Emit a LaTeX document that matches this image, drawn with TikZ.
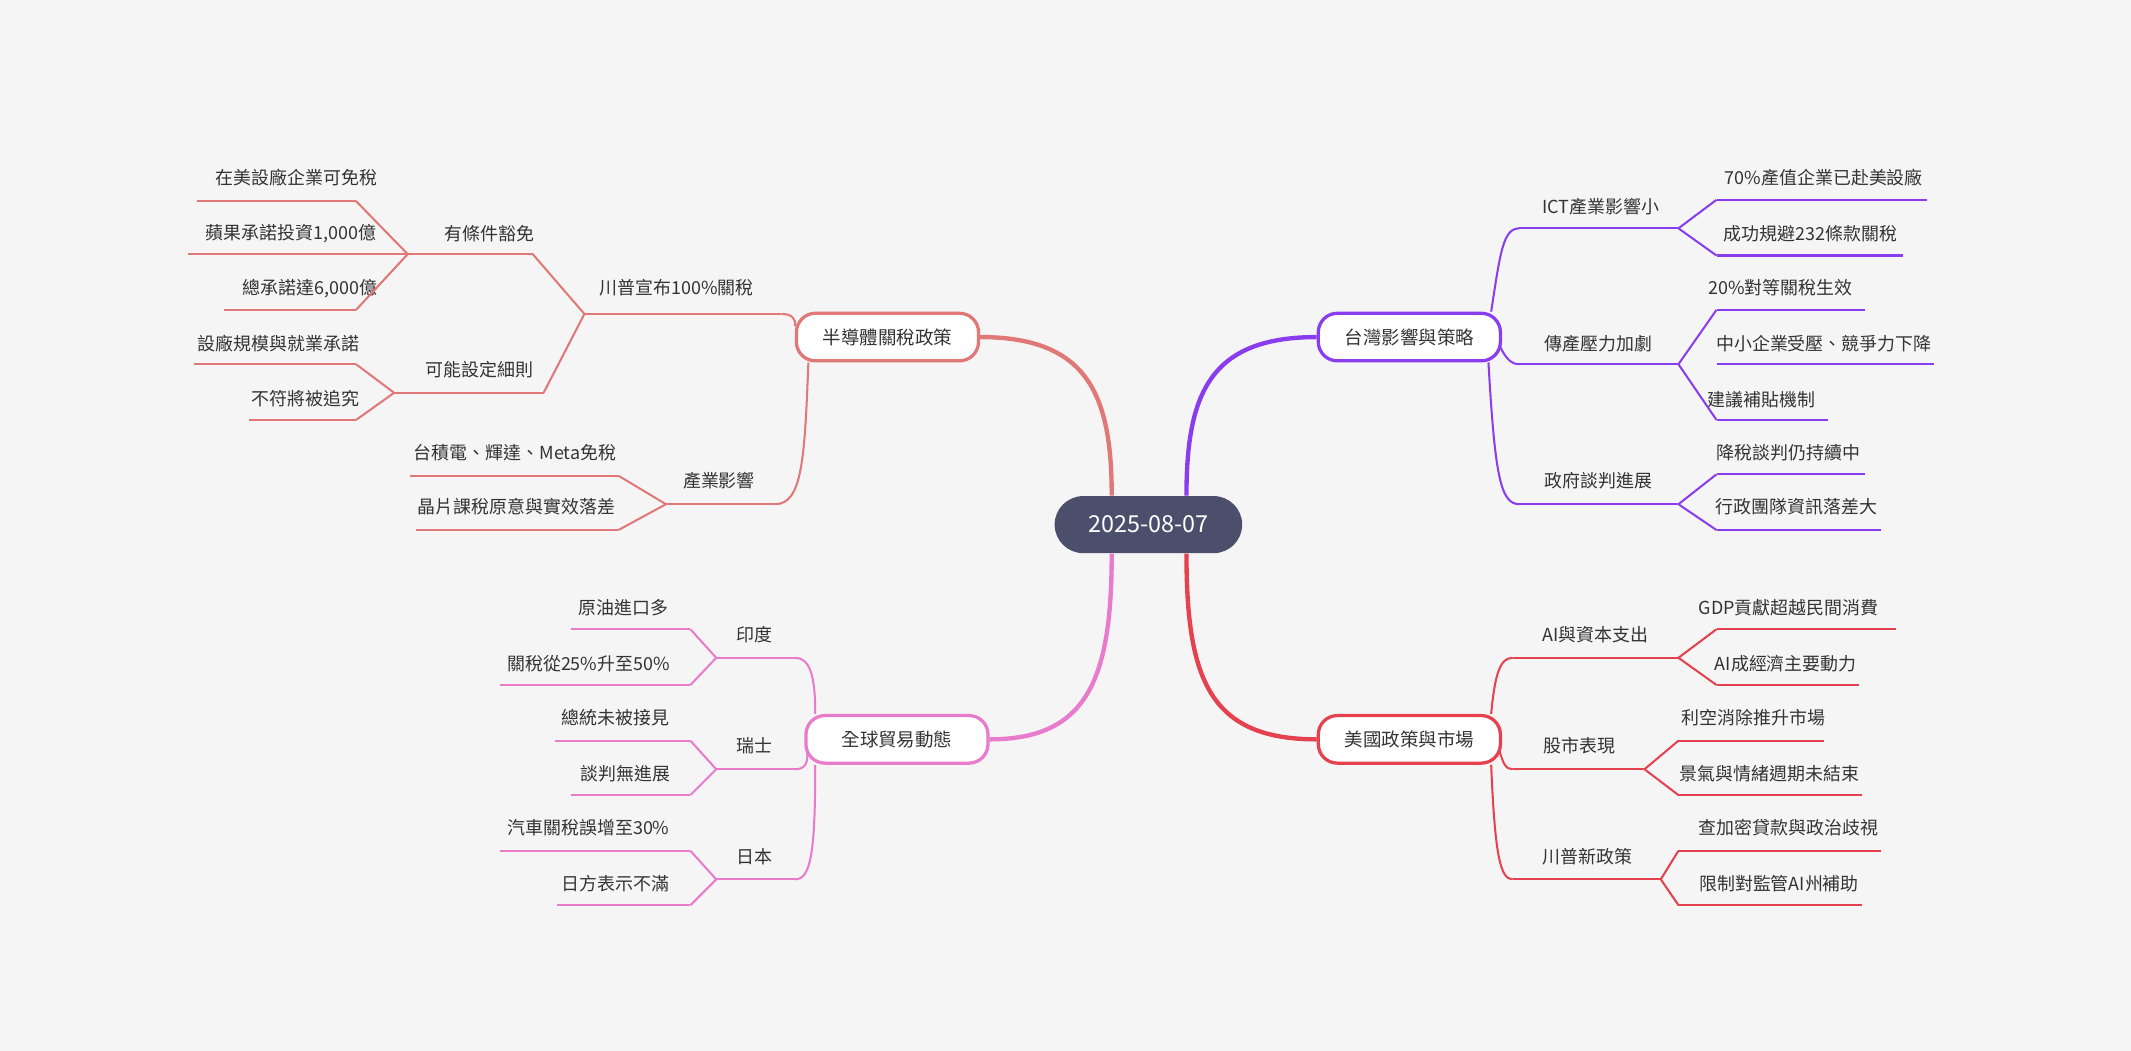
\documentclass[tikz,border=0pt]{standalone}
\usepackage{fontspec}
\setmainfont{Noto Sans CJK TC}
\usetikzlibrary{calc}
\definecolor{bg}{HTML}{F5F5F5}
\definecolor{cA}{HTML}{E07878}
\definecolor{cB}{HTML}{8A3DEE}
\definecolor{cC}{HTML}{E87BCB}
\definecolor{cD}{HTML}{E5414F}
\definecolor{rootc}{HTML}{4B4F6B}
\definecolor{txt}{HTML}{333333}
\tikzset{
 lf/.style={text=txt,font=\fontsize{6.6}{8}\selectfont,inner sep=0pt},
 ul/.style={line width=0.75pt},
 mainbox/.style={draw,line width=1.2pt,fill=white,rounded corners=7pt,minimum width=67pt,minimum height=17.5pt,text=txt,font=\fontsize{6.8}{8}\selectfont},
 rootbox/.style={fill=rootc,rounded corners=10.5pt,minimum width=69pt,minimum height=21pt,text=white,font=\fontsize{8.6}{10}\selectfont},
 thick1/.style={line width=1.6pt},
}
% \leaf{name}{tx}{ty}{x1}{x2}{uy}{text}{color}
\newcommand{\leaf}[8]{%
 \coordinate (#1L) at (#4,#6); \coordinate (#1R) at (#5,#6);
 \node[lf] (#1) at (#2,#3) {#7};
 \draw[ul,#8] (#1L) -- (#1R);}
\newcommand{\sconn}[3]{\draw[ul,#3] (#1) .. controls ($(#1)!0.5!(#2)$ |- #1) and ($(#1)!0.5!(#2)$ |- #2) .. (#2);}
\begin{document}
\begin{tikzpicture}[x=0.5pt,y=-0.5pt]
\fill[bg] (0,0) rectangle (1568,773);
\useasboundingbox (0,0) rectangle (1568,773);
% root and main nodes
\node[rootbox] (root) at (845,386) {2025-08-07};
\node[mainbox,draw=cA] (nA) at (653,248) {半導體關稅政策};
\node[mainbox,draw=cB] (nB) at (1037,248) {台灣影響與策略};
\node[mainbox,draw=cC] (nC) at (660,544) {全球貿易動態};
\node[mainbox,draw=cD] (nD) at (1037,544) {美國政策與市場};
\draw[thick1,cA] (root.north -| 818,0) .. controls (818,290) and (800,248) .. (nA.east);
\draw[thick1,cB] (root.north -| 873,0) .. controls (873,290) and (890,248) .. (nB.west);
\draw[thick1,cC] (root.south -| 818,0) .. controls (818,500) and (800,544) .. (nC.east);
\draw[thick1,cD] (root.south -| 873,0) .. controls (873,500) and (890,544) .. (nD.west);
% ---- A
\leaf{a1}{498}{212}{430}{575}{231}{川普宣布100\%關稅}{cA}
\leaf{a11}{360}{172}{300}{392}{187}{有條件豁免}{cA}
\leaf{a111}{218}{131}{145}{262}{148}{在美設廠企業可免稅}{cA}
\leaf{a112}{214}{172}{138}{300}{187}{蘋果承諾投資1,000億}{cA}
\leaf{a113}{228}{212}{165}{262}{228}{總承諾達6,000億}{cA}
\leaf{a12}{353}{272}{290}{400}{289}{可能設定細則}{cA}
\leaf{a121}{205}{253}{143}{262}{268}{設廠規模與就業承諾}{cA}
\leaf{a122}{225}{293}{183}{262}{309}{不符將被追究}{cA}
\leaf{a2}{529}{354}{490}{570}{371}{產業影響}{cA}
\leaf{a21}{379}{333}{302}{455}{350}{台積電、輝達、Meta免稅}{cA}
\leaf{a22}{380}{373}{306}{455}{390}{晶片課稅原意與實效落差}{cA}
\draw[ul,cA] (a1R) .. controls (582,231) and (586,234) .. (nA.west |- 0,240);
\draw[ul,cA] (nA.south west) ++(10,0) coordinate (nAs) .. controls (592,340) and (590,371) .. (a2R);
\sconn{a1L}{a11R}{cA}\sconn{a1L}{a12R}{cA}
\sconn{a11L}{a111R}{cA}\sconn{a11L}{a113R}{cA}
\sconn{a12L}{a121R}{cA}\sconn{a12L}{a122R}{cA}
\sconn{a2L}{a21R}{cA}\sconn{a2L}{a22R}{cA}
% ---- B
\leaf{b1}{1178}{152}{1118}{1235}{168}{ICT產業影響小}{cB}
\leaf{b11}{1342}{131}{1263}{1418}{147}{70\%產值企業已赴美設廠}{cB}
\leaf{b12}{1332}{172}{1263}{1400}{188}{成功規避232條款關稅}{cB}
\leaf{b2}{1176}{253}{1118}{1235}{268}{傳產壓力加劇}{cB}
\leaf{b21}{1310}{212}{1263}{1372}{228}{20\%對等關稅生效}{cB}
\leaf{b22}{1342}{253}{1263}{1423}{268}{中小企業受壓、競爭力下降}{cB}
\leaf{b23}{1296}{294}{1263}{1345}{309}{建議補貼機制}{cB}
\leaf{b3}{1176}{354}{1118}{1235}{371}{政府談判進展}{cB}
\leaf{b31}{1316}{333}{1263}{1372}{349}{降稅談判仍持續中}{cB}
\leaf{b32}{1322}{373}{1263}{1384}{390}{行政團隊資訊落差大}{cB}
\draw[ul,cB] ($(nB.north east)+(-8,0)$) .. controls (1104,185) and (1106,168) .. (b1L);
\draw[ul,cB] ($(nB.east)+(-2,6)$) .. controls (1108,264) and (1112,268) .. (b2L);
\draw[ul,cB] ($(nB.south east)+(-10,0)$) .. controls (1100,350) and (1104,371) .. (b3L);
\sconn{b1R}{b11L}{cB}\sconn{b1R}{b12L}{cB}
\sconn{b2R}{b21L}{cB}\sconn{b2R}{b23L}{cB}
\sconn{b3R}{b31L}{cB}\sconn{b3R}{b32L}{cB}
% ---- C
\leaf{c1}{555}{467}{527}{585}{484}{印度}{cC}
\leaf{c11}{459}{447}{420}{508}{463}{原油進口多}{cC}
\leaf{c12}{433}{488}{368}{508}{504}{關稅從25\%升至50\%}{cC}
\leaf{c2}{555}{549}{527}{585}{566}{瑞士}{cC}
\leaf{c21}{453}{528}{408}{508}{545}{總統未被接見}{cC}
\leaf{c22}{460}{569}{420}{508}{585}{談判無進展}{cC}
\leaf{c3}{555}{630}{527}{585}{647}{日本}{cC}
\leaf{c31}{433}{609}{368}{508}{626}{汽車關稅誤增至30\%}{cC}
\leaf{c32}{453}{650}{410}{508}{666}{日方表示不滿}{cC}
\draw[ul,cC] ($(nC.north west)+(8,0)$) .. controls (600,495) and (595,484) .. (c1R);
\draw[ul,cC] ($(nC.west)+(2,8)$) .. controls (595,562) and (592,566) .. (c2R);
\draw[ul,cC] ($(nC.south west)+(8,0)$) .. controls (600,630) and (596,647) .. (c3R);
\sconn{c1L}{c11R}{cC}\sconn{c1L}{c12R}{cC}
\sconn{c2L}{c21R}{cC}\sconn{c2L}{c22R}{cC}
\sconn{c3L}{c31R}{cC}\sconn{c3L}{c32R}{cC}
% ---- D
\leaf{d1}{1174}{467}{1113}{1235}{484}{AI與資本支出}{cD}
\leaf{d11}{1316}{447}{1263}{1395}{463}{GDP貢獻超越民間消費}{cD}
\leaf{d12}{1314}{488}{1263}{1368}{504}{AI成經濟主要動力}{cD}
\leaf{d2}{1162}{549}{1113}{1210}{566}{股市表現}{cD}
\leaf{d21}{1290}{528}{1235}{1342}{545}{利空消除推升市場}{cD}
\leaf{d22}{1302}{569}{1235}{1370}{585}{景氣與情緒週期未結束}{cD}
\leaf{d3}{1168}{630}{1113}{1222}{647}{川普新政策}{cD}
\leaf{d31}{1316}{609}{1235}{1384}{626}{查加密貸款與政治歧視}{cD}
\leaf{d32}{1309}{650}{1235}{1370}{666}{限制對監管AI州補助}{cD}
\draw[ul,cD] ($(nD.north east)+(-8,0)$) .. controls (1100,495) and (1104,484) .. (d1L);
\draw[ul,cD] ($(nD.east)+(-2,8)$) .. controls (1106,562) and (1108,566) .. (d2L);
\draw[ul,cD] ($(nD.south east)+(-8,0)$) .. controls (1100,630) and (1104,647) .. (d3L);
\sconn{d1R}{d11L}{cD}\sconn{d1R}{d12L}{cD}
\sconn{d2R}{d21L}{cD}\sconn{d2R}{d22L}{cD}
\sconn{d3R}{d31L}{cD}\sconn{d3R}{d32L}{cD}
\end{tikzpicture}
\end{document}
